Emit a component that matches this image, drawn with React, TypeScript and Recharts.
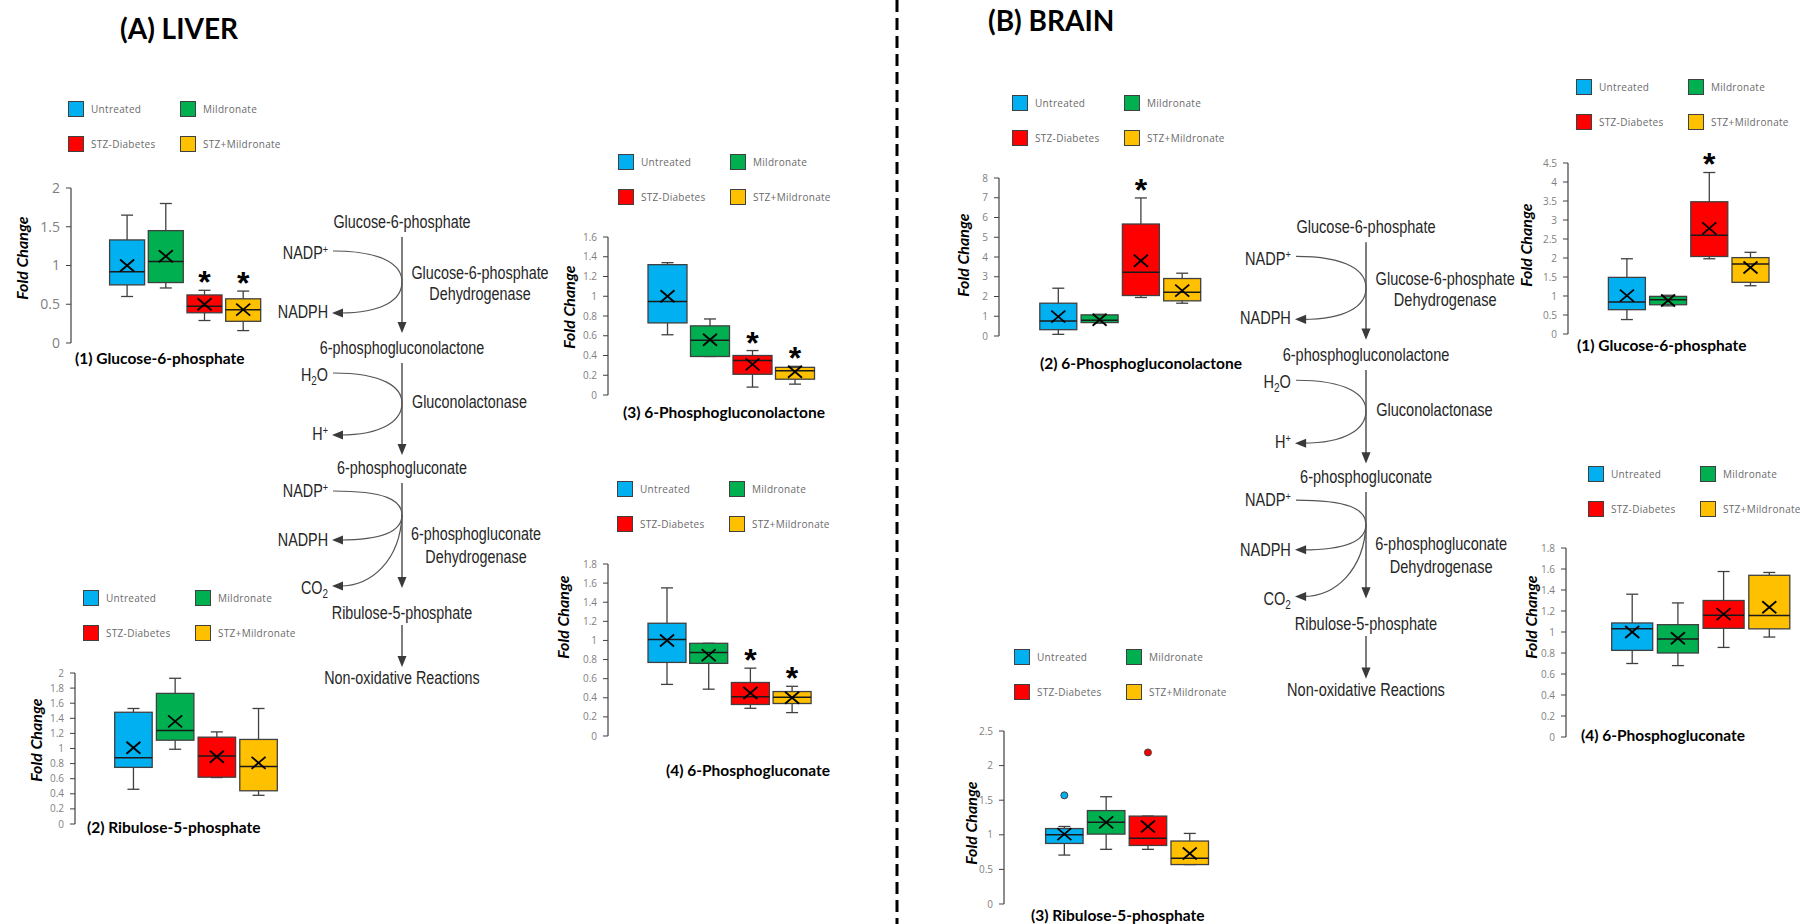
import React from "react";
import { ComposedChart, Bar, XAxis, YAxis } from "recharts";

const groups = ["Untreated", "Mildronate", "STZ-Diabetes", "STZ+Mildronate"];
const groupColors = ["#00B0F0", "#00B050", "#FF0000", "#FFC000"];

// each row: [min, q1, median, q3, max, mean]
const liverG6P = [
  [0.6, 0.75, 0.92, 1.33, 1.65, 1.0],
  [0.71, 0.78, 1.05, 1.45, 1.8, 1.12],
  [0.29, 0.39, 0.475, 0.62, 0.68, 0.5],
  [0.16, 0.28, 0.43, 0.57, 0.67, 0.43],
];
const liverG6PStar = [false, false, true, true];
const liverG6PTicks = [0, 0.5, 1, 1.5, 2];

const liverR5P = [
  [0.46, 0.75, 0.876, 1.48, 1.53, 1.01],
  [0.99, 1.11, 1.24, 1.73, 1.93, 1.36],
  [0.615, 0.62, 0.9, 1.15, 1.22, 0.89],
  [0.38, 0.44, 0.76, 1.12, 1.53, 0.81],
];
const liverR5PStar = [false, false, false, false];
const liverR5PTicks = [0, 0.2, 0.4, 0.6, 0.8, 1, 1.2, 1.4, 1.6, 1.8, 2];

const liver6PGL = [
  [0.61, 0.73, 0.946, 1.32, 1.34, 1.0],
  [0.39, 0.39, 0.555, 0.7, 0.77, 0.56],
  [0.08, 0.21, 0.35, 0.4, 0.45, 0.31],
  [0.11, 0.16, 0.245, 0.28, 0.29, 0.235],
];
const liver6PGLStar = [false, false, true, true];
const liver6PGLTicks = [0, 0.2, 0.4, 0.6, 0.8, 1, 1.2, 1.4, 1.6];

const liver6PG = [
  [0.54, 0.77, 1.01, 1.18, 1.55, 1.0],
  [0.49, 0.76, 0.874, 0.97, 0.97, 0.846],
  [0.29, 0.33, 0.41, 0.56, 0.71, 0.45],
  [0.245, 0.34, 0.405, 0.465, 0.52, 0.4],
];
const liver6PGStar = [false, false, true, true];
const liver6PGTicks = [0, 0.2, 0.4, 0.6, 0.8, 1, 1.2, 1.4, 1.6, 1.8];

const brainG6P = [
  [0.38, 0.64, 0.84, 1.49, 1.98, 1.01],
  [0.74, 0.77, 0.9, 0.99, 1.02, 0.88],
  [1.98, 2.04, 2.6, 3.48, 4.25, 2.78],
  [1.27, 1.36, 1.84, 2.01, 2.15, 1.75],
];
const brainG6PStar = [false, false, true, false];
const brainG6PTicks = [0, 0.5, 1, 1.5, 2, 2.5, 3, 3.5, 4, 4.5];

const brain6PGL = [
  [0.085, 0.32, 0.76, 1.66, 2.42, 0.98],
  [0.65, 0.68, 0.8, 1.07, 1.1, 0.82],
  [1.95, 2.05, 3.23, 5.67, 6.99, 3.81],
  [1.66, 1.78, 2.22, 2.91, 3.18, 2.3],
];
const brain6PGLStar = [false, false, true, false];
const brain6PGLTicks = [0, 1, 2, 3, 4, 5, 6, 7, 8];

const brainR5P = [
  [0.707, 0.875, 1.0, 1.09, 1.12, 1.01],
  [0.79, 1.01, 1.18, 1.35, 1.55, 1.18],
  [0.79, 0.846, 0.95, 1.27, 1.27, 1.12],
  [0.57, 0.57, 0.66, 0.91, 1.02, 0.73],
];
const brainR5PStar = [false, false, false, false];
const brainR5POutlier = [1.57, null, 2.19, null];
const brainR5PTicks = [0, 0.5, 1, 1.5, 2, 2.5];

const brain6PG = [
  [0.7, 0.825, 1.03, 1.086, 1.36, 1.0],
  [0.68, 0.8, 0.933, 1.07, 1.277, 0.94],
  [0.853, 1.035, 1.16, 1.3, 1.576, 1.17],
  [0.952, 1.03, 1.156, 1.54, 1.567, 1.236],
];
const brain6PGStar = [false, false, false, false];
const brain6PGTicks = [0, 0.2, 0.4, 0.6, 0.8, 1, 1.2, 1.4, 1.6, 1.8];

const toRows = (stats: number[][], stars: boolean[], outliers?: (number | null)[]) =>
  groups.map((g, i) => {
    const [min, q1, median, q3, max, mean] = stats[i];
    const outlier = outliers ? outliers[i] : null;
    return {
      group: g,
      color: groupColors[i],
      min, q1, median, q3, max, mean,
      star: stars[i],
      outlier,
      range: [min, outlier != null ? Math.max(max, outlier) : max],
    };
  });

const LABEL_FONT = "Lato, 'Open Sans', sans-serif";
const PATH_FONT = "'Liberation Sans', Arial, sans-serif";
const edge = "#404040";

const BoxShape = (props: any) => {
  const { x, y, width, height } = props;
  const p = props.payload || props;
  const [low, high] = p.range;
  const top = Math.min(y, y + height);
  const bottom = Math.max(y, y + height);
  const py = (v: number) => bottom - ((v - low) / (high - low)) * (bottom - top);
  const cx = x + width / 2;
  const cap = 6;
  return (
    <g>
      <line x1={cx} y1={py(p.max)} x2={cx} y2={py(p.q3)} stroke={edge} strokeWidth={1.3} />
      <line x1={cx - cap} y1={py(p.max)} x2={cx + cap} y2={py(p.max)} stroke={edge} strokeWidth={1.3} />
      <line x1={cx} y1={py(p.min)} x2={cx} y2={py(p.q1)} stroke={edge} strokeWidth={1.3} />
      <line x1={cx - cap} y1={py(p.min)} x2={cx + cap} y2={py(p.min)} stroke={edge} strokeWidth={1.3} />
      <rect x={x} y={py(p.q3)} width={width} height={py(p.q1) - py(p.q3)} fill={p.color} stroke={edge} strokeWidth={1.3} />
      <line x1={x} y1={py(p.median)} x2={x + width} y2={py(p.median)} stroke="#1a1a1a" strokeWidth={1.5} />
      <line x1={cx - 7} y1={py(p.mean) - 6} x2={cx + 7} y2={py(p.mean) + 6} stroke="#000" strokeWidth={1.8} />
      <line x1={cx - 7} y1={py(p.mean) + 6} x2={cx + 7} y2={py(p.mean) - 6} stroke="#000" strokeWidth={1.8} />
      {p.outlier != null && (
        <circle cx={cx} cy={py(p.outlier)} r={3.5} fill={p.color} stroke={edge} strokeWidth={1} />
      )}
      {p.star && (
        <text x={cx} y={py(p.max) + 3} textAnchor="middle" fontSize={32} fontWeight="bold"
          fontFamily="'Liberation Sans', Arial, sans-serif" fill="#000">*</text>
      )}
    </g>
  );
};

const Legend = ({ x, y }: { x: number; y: number }) => (
  <>
    {groups.map((g, i) => (
      <div key={g} style={{
        position: "absolute", left: x + (i % 2) * 112, top: y + Math.floor(i / 2) * 35 - 8,
        display: "flex", alignItems: "center", whiteSpace: "nowrap",
      }}>
        <div style={{ width: 14, height: 14, background: groupColors[i], border: `1px solid ${edge}` }} />
        <span style={{ marginLeft: 7, fontFamily: "'Open Sans', sans-serif", fontSize: 10, color: "#6b6b6b", letterSpacing: 0.3 }}>{g}</span>
      </div>
    ))}
  </>
);

type PanelProps = {
  rows: any[]; ticks: number[]; axisX: number; y0: number; yTop: number;
  padL: number; band: number; boxW: number; tickFont?: number;
  legend: [number, number]; title: string; titlePos: [number, number]; fold: [number, number];
};

const Panel = ({ rows, ticks, axisX, y0, yTop, padL, band, boxW, tickFont = 10, legend, title, titlePos, fold }: PanelProps) => {
  const mt = 32, mb = 12, padR = 10, yw = 44;
  const width = yw + padL + band * 4 + padR;
  const height = mt + (y0 - yTop) + mb;
  return (
    <>
      <Legend x={legend[0]} y={legend[1]} />
      <div style={{ position: "absolute", left: axisX - yw, top: yTop - mt }}>
        <ComposedChart width={width} height={height} data={rows} barSize={boxW}
          margin={{ top: mt, right: 0, bottom: mb, left: 0 }}>
          <XAxis dataKey="group" hide padding={{ left: padL, right: padR }} />
          <YAxis width={yw} domain={[0, ticks[ticks.length - 1]]} ticks={ticks} interval={0}
            axisLine={{ stroke: edge, strokeWidth: 1.2 }} tickLine={{ stroke: edge }} tickSize={5} tickMargin={6}
            tick={{ fill: "#7f7f7f", fontSize: tickFont, fontFamily: "'Open Sans', sans-serif" }} />
          <Bar dataKey="range" isAnimationActive={false} shape={BoxShape} />
        </ComposedChart>
      </div>
      <div style={{
        position: "absolute", left: titlePos[0], top: titlePos[1], transform: "translateY(-50%)",
        fontFamily: LABEL_FONT, fontWeight: 700, fontSize: 15.5, whiteSpace: "nowrap", color: "#000",
      }}>{title}</div>
      <div style={{
        position: "absolute", left: fold[0], top: fold[1], transform: "translate(-50%, -50%) rotate(-90deg)",
        fontFamily: LABEL_FONT, fontWeight: 700, fontStyle: "italic", fontSize: 16, whiteSpace: "nowrap", color: "#000",
      }}>Fold Change</div>
    </>
  );
};

// narrow text: regular sans squeezed horizontally around its anchor
const T = ({ x, y, anchor = "start", children }: { x: number; y: number; anchor?: string; children: any }) => (
  <g transform={`translate(${x} ${y}) scale(0.82 1)`}>
    <text x={0} y={0} textAnchor={anchor as any}>{children}</text>
  </g>
);

const Pathway = ({ transform }: { transform?: string }) => {
  const ink = "#3a3a3a";
  const X = 402;
  const down = (a: number, b: number) => (
    <g>
      <line x1={X} y1={a} x2={X} y2={b - 8} stroke={ink} strokeWidth={1.3} />
      <polygon points={`${X},${b} ${X - 4.5},${b - 11} ${X + 4.5},${b - 11}`} fill={ink} />
    </g>
  );
  const left = (x: number, y: number) => (
    <polygon points={`${x},${y} ${x + 11},${y - 4.5} ${x + 11},${y + 4.5}`} fill={ink} />
  );
  const curve = { fill: "none", stroke: "#555", strokeWidth: 1.2 };
  return (
    <g transform={transform} fontFamily={PATH_FONT} fontSize={17.5} fill="#262626">
      <T x={X} y={228} anchor="middle">Glucose-6-phosphate</T>
      {down(237, 333)}
      <T x={328} y={259} anchor="end">NADP<tspan dy={-6} fontSize={11}>+</tspan></T>
      <path d="M 333 251 C 385 251, 402 266, 402 282 C 402 300, 382 313, 340 313" {...curve} />
      {left(332, 313)}
      <T x={328} y={318} anchor="end">NADPH</T>
      <T x={480} y={279} anchor="middle">Glucose-6-phosphate</T>
      <T x={480} y={300} anchor="middle">Dehydrogenase</T>

      <T x={X} y={354} anchor="middle">6-phosphogluconolactone</T>
      {down(363, 455)}
      <T x={328} y={381} anchor="end">H<tspan dy={4} fontSize={12}>2</tspan><tspan dy={-4}>O</tspan></T>
      <path d="M 333 373 C 385 373, 402 388, 402 403 C 402 421, 382 435, 340 435" {...curve} />
      {left(332, 435)}
      <T x={328} y={440} anchor="end">H<tspan dy={-6} fontSize={11}>+</tspan></T>
      <T x={412} y={408}>Gluconolactonase</T>

      <T x={X} y={474} anchor="middle">6-phosphogluconate</T>
      {down(483, 588)}
      <T x={328} y={497} anchor="end">NADP<tspan dy={-6} fontSize={11}>+</tspan></T>
      <path d="M 333 491 C 385 491, 402 500, 402 515" {...curve} />
      <path d="M 402 515 C 402 530, 385 540, 340 540" {...curve} />
      {left(332, 540)}
      <T x={328} y={546} anchor="end">NADPH</T>
      <path d="M 402 515 C 400 560, 372 586, 340 586" {...curve} />
      {left(332, 586)}
      <T x={328} y={594} anchor="end">CO<tspan dy={4} fontSize={12}>2</tspan></T>
      <T x={476} y={540} anchor="middle">6-phosphogluconate</T>
      <T x={476} y={563} anchor="middle">Dehydrogenase</T>

      <T x={X} y={619} anchor="middle">Ribulose-5-phosphate</T>
      {down(625, 667)}
      <T x={X} y={684} anchor="middle">Non-oxidative Reactions</T>
    </g>
  );
};

const App = () => (
  <div style={{ position: "absolute", left: 0, top: 0, width: 1800, height: 924, background: "#fff", overflow: "hidden" }}>
    <svg width={1800} height={924} style={{ position: "absolute", left: 0, top: 0 }}>
      <line x1={897} y1={0} x2={897} y2={924} stroke="#000" strokeWidth={3} strokeDasharray="12 6" />
      <Pathway />
      <Pathway transform="translate(1366 227) scale(1.015) translate(-402 -222)" />
    </svg>
    <div style={{ position: "absolute", left: 120, top: 28, transform: "translateY(-50%)", fontFamily: LABEL_FONT, fontWeight: 700, fontSize: 28, whiteSpace: "nowrap" }}>(A) LIVER</div>
    <div style={{ position: "absolute", left: 988, top: 20, transform: "translateY(-50%)", fontFamily: LABEL_FONT, fontWeight: 700, fontSize: 28, whiteSpace: "nowrap" }}>(B) BRAIN</div>

    <Panel rows={toRows(liverG6P, liverG6PStar)} ticks={liverG6PTicks} axisX={71} y0={343} yTop={188}
      padL={36.6} band={38.7} boxW={35} tickFont={14} legend={[68, 109]}
      title="(1) Glucose-6-phosphate" titlePos={[75, 358]} fold={[21, 258]} />
    <Panel rows={toRows(liverR5P, liverR5PStar)} ticks={liverR5PTicks} axisX={75} y0={824} yTop={673}
      padL={37.7} band={41.7} boxW={37.5} legend={[83, 598]}
      title="(2) Ribulose-5-phosphate" titlePos={[87, 827]} fold={[35, 740]} />
    <Panel rows={toRows(liver6PGL, liver6PGLStar)} ticks={liver6PGLTicks} axisX={608} y0={395} yTop={237}
      padL={38} band={42.5} boxW={39} legend={[618, 162]}
      title="(3) 6-Phosphogluconolactone" titlePos={[623, 412]} fold={[568, 307]} />
    <Panel rows={toRows(liver6PG, liver6PGStar)} ticks={liver6PGTicks} axisX={608} y0={736} yTop={564}
      padL={38} band={41.7} boxW={38} legend={[617, 489]}
      title="(4) 6-Phosphogluconate" titlePos={[666, 770]} fold={[562, 617]} />

    <Panel rows={toRows(brain6PGL, brain6PGLStar)} ticks={brain6PGLTicks} axisX={999} y0={336} yTop={178}
      padL={38.8} band={41.3} boxW={37} legend={[1012, 103]}
      title="(2) 6-Phosphogluconolactone" titlePos={[1040, 363]} fold={[962, 255]} />
    <Panel rows={toRows(brainG6P, brainG6PStar)} ticks={brainG6PTicks} axisX={1568} y0={334} yTop={163}
      padL={38.4} band={41.2} boxW={37} legend={[1576, 87]}
      title="(1) Glucose-6-phosphate" titlePos={[1577, 345]} fold={[1525, 245]} />
    <Panel rows={toRows(brainR5P, brainR5PStar, brainR5POutlier)} ticks={brainR5PTicks} axisX={1004} y0={904} yTop={731}
      padL={39.6} band={41.8} boxW={37.5} legend={[1014, 657]}
      title="(3) Ribulose-5-phosphate" titlePos={[1031, 915]} fold={[970, 823]} />
    <Panel rows={toRows(brain6PG, brain6PGStar)} ticks={brain6PGTicks} axisX={1566} y0={737} yTop={548}
      padL={43.7} band={45.7} boxW={41} legend={[1588, 474]}
      title="(4) 6-Phosphogluconate" titlePos={[1581, 735]} fold={[1530, 617]} />
  </div>
);

export default App;
